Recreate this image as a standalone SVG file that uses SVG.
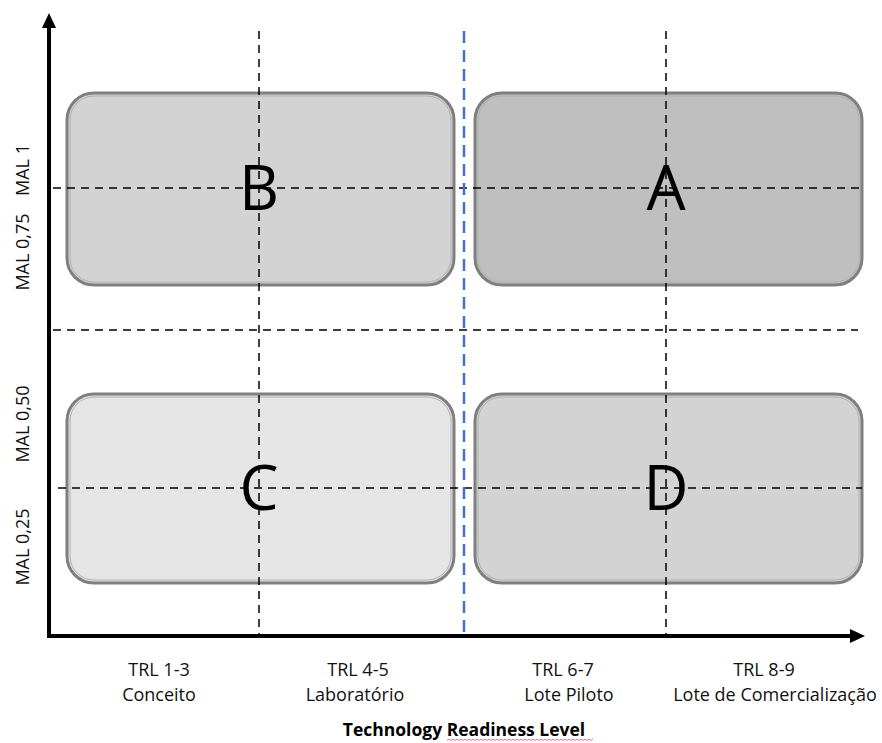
<svg xmlns="http://www.w3.org/2000/svg" width="882" height="743" viewBox="0 0 882 743">
  <style>
    .box { stroke: #7f7f7f; stroke-width: 3; }
    .box-in { fill: none; stroke: #b0b0b0; stroke-width: 1; }
    .letter { font-family: "Open Sans", "Liberation Sans", sans-serif; font-size: 62px; fill: #000; text-anchor: middle; }
    .grid { stroke: #000; stroke-width: 1.5; stroke-dasharray: 8 6; fill: none; }
    .split { stroke: #4472c4; stroke-width: 2.5; stroke-dasharray: 12 7; fill: none; }
    .axis { stroke: #000; stroke-width: 4; fill: none; }
    .lbl { font-family: "Open Sans", "Liberation Sans", sans-serif; font-size: 18px; fill: #111; text-anchor: middle; }
    .ylbl { font-family: "Open Sans", "Liberation Sans", sans-serif; font-size: 18px; fill: #111; text-anchor: middle; }
    .title { font-family: "Open Sans", "Liberation Sans", sans-serif; font-size: 17.5px; font-weight: bold; fill: #000; text-anchor: middle; }
  </style>
  <rect width="882" height="743" fill="#ffffff"/>

  <!-- quadrant boxes -->
  <g id="quad-B">
    <rect class="box" x="67" y="93" width="387" height="192" rx="27" fill="#d3d3d3"/>
    <rect class="box-in" x="70" y="96" width="381" height="186" rx="24"/>
    <text class="letter" x="259" y="210">B</text>
  </g>
  <g id="quad-A">
    <rect class="box" x="475" y="93" width="387" height="192" rx="27" fill="#bfbfbf"/>
    <rect class="box-in" x="478" y="96" width="381" height="186" rx="24"/>
    <text class="letter" x="666" y="210">A</text>
  </g>
  <g id="quad-C">
    <rect class="box" x="67" y="394" width="387" height="189" rx="27" fill="#e5e5e5"/>
    <rect class="box-in" x="70" y="397" width="381" height="183" rx="24"/>
    <text class="letter" x="259" y="510">C</text>
  </g>
  <g id="quad-D">
    <rect class="box" x="475" y="394" width="387" height="189" rx="27" fill="#d3d3d3"/>
    <rect class="box-in" x="478" y="397" width="381" height="183" rx="24"/>
    <text class="letter" x="666" y="510">D</text>
  </g>

  <!-- grid lines and axes -->
  <g id="connectors">
    <line class="grid" x1="259" y1="31" x2="259" y2="636"/>
    <line class="grid" x1="666" y1="31" x2="666" y2="636"/>
    <line class="grid" x1="53" y1="188" x2="862" y2="188"/>
    <line class="grid" x1="53" y1="330" x2="858" y2="330"/>
    <line class="grid" x1="58" y1="488" x2="862" y2="488"/>
    <line class="split" x1="464" y1="31" x2="464" y2="636"/>
    <line class="axis" x1="49" y1="26" x2="49" y2="638"/>
    <line class="axis" x1="47" y1="636" x2="852" y2="636"/>
    <polygon points="49,13 56,28 42,28" fill="#000"/>
    <polygon points="865,636 850,629 850,643" fill="#000"/>
  </g>

  <!-- y axis labels -->
  <g id="y-labels">
    <text class="ylbl" transform="translate(29,170) rotate(-90)">MAL 1</text>
    <text class="ylbl" transform="translate(29,252) rotate(-90)">MAL 0,75</text>
    <text class="ylbl" transform="translate(29,424) rotate(-90)">MAL 0,50</text>
    <text class="ylbl" transform="translate(29,547) rotate(-90)">MAL 0,25</text>
  </g>

  <!-- x axis labels -->
  <g id="x-labels">
    <text class="lbl" x="159" y="676">TRL 1-3</text>
    <text class="lbl" x="159" y="701">Conceito</text>
    <text class="lbl" x="358" y="676">TRL 4-5</text>
    <text class="lbl" x="355" y="701">Laboratório</text>
    <text class="lbl" x="563" y="676">TRL 6-7</text>
    <text class="lbl" x="569" y="701">Lote Piloto</text>
    <text class="lbl" x="764" y="676">TRL 8-9</text>
    <text class="lbl" x="775" y="701">Lote de Comercialização</text>
  </g>

  <g id="title">
    <text class="title" x="464" y="736">Technology Readiness Level</text>
    <path d="M447,740.5 l2,-1.5 l2,1.5 l2,-1.5 l2,1.5 l2,-1.5 l2,1.5 l2,-1.5 l2,1.5 l2,-1.5 l2,1.5 l2,-1.5 l2,1.5 l2,-1.5 l2,1.5 l2,-1.5 l2,1.5 l2,-1.5 l2,1.5 l2,-1.5 l2,1.5 l2,-1.5 l2,1.5 l2,-1.5 l2,1.5 l2,-1.5 l2,1.5 l2,-1.5 l2,1.5 l2,-1.5 l2,1.5 l2,-1.5 l2,1.5 l2,-1.5 l2,1.5 l2,-1.5 l2,1.5 l2,-1.5 l2,1.5 l2,-1.5 l2,1.5 l2,-1.5 l2,1.5 l2,-1.5 l2,1.5 l2,-1.5 l2,1.5 l2,-1.5 l2,1.5 l2,-1.5 l2,1.5 l2,-1.5 l2,1.5 l2,-1.5 l2,1.5 l2,-1.5 l2,1.5 l2,-1.5 l2,1.5 l2,-1.5 l2,1.5 l2,-1.5 l2,1.5 l2,-1.5 l2,1.5 l2,-1.5 l2,1.5 l2,-1.5 l2,1.5 l2,-1.5 l2,1.5 l2,-1.5 l2,1.5 l2,-1.5" fill="none" stroke="#e05050" stroke-width="0.8"/>
  </g>
</svg>
